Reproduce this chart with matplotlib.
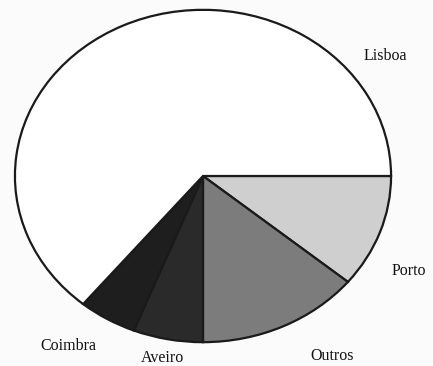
import matplotlib.pyplot as plt

# share of each city (percent)
cidades = ['Porto', 'Outros', 'Aveiro', 'Coimbra', 'Lisboa']
valores = [11, 14, 6, 5, 64]
cores = ['#cfcfcf', '#7c7c7c', '#2a2a2a', '#1e1e1e', '#ffffff']

# where each label sits, in axes data units (pie radius = 1)
label_x = [1.095, 0.688, -0.217, -0.714, 0.968]
label_y = [-0.569, -1.084, -1.095, -1.024, 0.725]

fig = plt.figure(figsize=(4.33, 3.66), dpi=100)
fig.patch.set_facecolor('#fbfbfb')
ax = fig.add_axes([14 / 433, 23 / 366, 378 / 433, 334 / 366])

ax.pie(valores, colors=cores, startangle=0, counterclock=False,
       wedgeprops={'edgecolor': '#1a1a1a', 'linewidth': 1.6})
ax.set_aspect('auto')
ax.set_xlim(-1.005, 1.005)
ax.set_ylim(-1.005, 1.005)
ax.axis('off')

for nome, x, y in zip(cidades, label_x, label_y):
    ax.text(x, y, nome, ha='center', va='center', fontsize=11.5,
            family='Liberation Serif', color='#111111', clip_on=False)

plt.savefig('out.png', dpi=100, facecolor=fig.get_facecolor())
